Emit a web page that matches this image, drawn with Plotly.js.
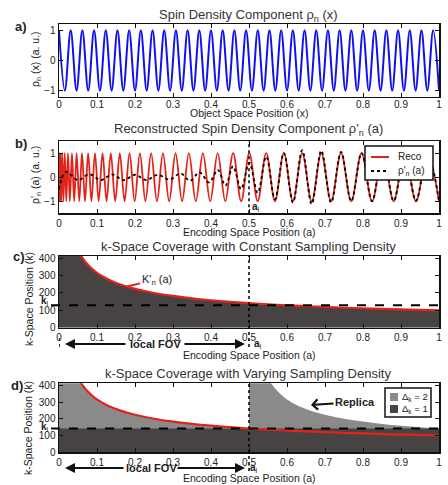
<!DOCTYPE html>
<html><head><meta charset="utf-8">
<script src="https://cdn.plot.ly/plotly-3.0.1.min.js"></script>
<style>html,body{margin:0;padding:0;background:#fff}#plot{width:448px;height:485px}</style>
</head><body><div id="plot"></div>
<script>
// ---------- data ----------
// panel a: extrema of the spin density component rho_n(x)
const spinX = [0,0.0154,0.0308,0.0462,0.0615,0.0769,0.0923,0.1077,0.1231,0.1385,0.1538,0.1692,0.1846,0.2,0.2154,0.2308,0.2462,0.2615,0.2769,0.2923,0.3077,0.3231,0.3385,0.3538,0.3692,0.3846,0.4,0.4154,0.4308,0.4462,0.4615,0.4769,0.4923,0.5077,0.5231,0.5385,0.5538,0.5692,0.5846,0.6,0.6154,0.6308,0.6462,0.6615,0.6769,0.6923,0.7077,0.7231,0.7385,0.7538,0.7692,0.7846,0.8,0.8154,0.8308,0.8462,0.8615,0.8769,0.8923,0.9077,0.9231,0.9385,0.9538,0.9692,0.9846,1];
const spinY = [1,-1,1,-1,1,-1,1,-1,1,-1,1,-1,1,-1,1,-1,1,-1,1,-1,1,-1,1,-1,1,-1,1,-1,1,-1,1,-1,1,-1,1,-1,1,-1,1,-1,1,-1,1,-1,1,-1,1,-1,1,-1,1,-1,1,-1,1,-1,1,-1,1,-1,1,-1,1,-1,1,-1];
// panel b: extrema of the reconstruction "Reco"
const recoA = [0,0.0002,0.001,0.0021,0.0038,0.0059,0.0085,0.0116,0.0152,0.0192,0.0237,0.0286,0.0341,0.04,0.0464,0.0533,0.0606,0.0684,0.0767,0.0854,0.0947,0.1044,0.1146,0.1252,0.1363,0.1479,0.16,0.1725,0.1856,0.1991,0.213,0.2275,0.2424,0.2578,0.2736,0.2899,0.3067,0.324,0.3418,0.36,0.3787,0.3979,0.4175,0.4376,0.4582,0.4793,0.5008,0.5228,0.5453,0.5683,0.5917,0.6156,0.64,0.6649,0.6902,0.716,0.7423,0.769,0.7962,0.8239,0.8521,0.8807,0.9098,0.9394,0.9695,1];
const recoV = [1,-1,1,-1,1,-1,1,-1,1,-1,1,-1,1,-1,1,-1,1,-1,1,-1,1,-1,1,-1,1,-1,1,-1,1,-1,1,-1,1,-1,1,-1,1,-1,1,-1,1,-1,1,-1,1,-1,1,-1,1,-1,1,-1,1,-1,1,-1,1,-1,1,-1,1,-1,1,-1,1,-1];
// panel b: extrema of rho'_n(a)
const rhoA = [0,0.018,0.05,0.08,0.11,0.14,0.17,0.2,0.23,0.26,0.29,0.32,0.345,0.37,0.395,0.418,0.438,0.458,0.479,0.5008,0.5228,0.5453,0.5683,0.5917,0.6156,0.64,0.6649,0.6902,0.716,0.7423,0.769,0.7962,0.8239,0.8521,0.8807,0.9098,0.9394,0.9695,1];
const rhoV = [-0.5,0.22,-0.12,0.12,-0.12,0.11,-0.12,0.1,-0.12,0.1,-0.1,0.15,-0.15,0.2,-0.22,0.3,-0.35,0.45,-0.5,0.6,-0.65,0.85,-0.92,1.0,-1.05,1.12,-1.12,1.1,-1.05,1.05,-1.0,1.0,-1.0,0.98,-0.98,0.98,-0.98,1.0,-0.98];
// panels c, d: local k-space position K'_n(a)
const kA   = [0,0.005,0.01,0.02,0.03,0.04,0.05,0.06,0.07,0.08,0.09,0.1,0.12,0.14,0.16,0.18,0.2,0.25,0.3,0.35,0.4,0.45,0.5,0.55,0.6,0.65,0.7,0.75,0.8,0.85,0.9,0.95,1];
const kVal = [5000,1414,1000,707,577,500,447,408,378,354,333,316,289,267,250,236,224,200,183,169,158,149,141,135,129,124,120,115,112,108,105,103,100];
// panel d: replica
const repA   = [0.5,0.505,0.51,0.52,0.53,0.54,0.55,0.56,0.57,0.58,0.59,0.6,0.62,0.64,0.66,0.68,0.7,0.75,0.8,0.85,0.9,0.95,1];
const repVal = [5000,1414,1000,707,577,500,447,408,378,354,333,316,289,267,250,236,224,200,183,169,158,149,141];
const kLimitC = 130, kLimitD = 141, aLimit = 0.5;
const xTicks = [0,0.1,0.2,0.3,0.4,0.5,0.6,0.7,0.8,0.9,1];
const xTickText = ['0','0.1','0.2','0.3','0.4','0.5','0.6','0.7','0.8','0.9','1'];
const kTicks = [0,100,200,300,400];
const legendB = ['Reco', "ρ'<sub>n</sub> (a)"];
const legendD = ['Δ<sub>k</sub> = 2', 'Δ<sub>k</sub> = 1'];

// ---------- layout helpers ----------
const W = 448, H = 485;
const px = x => x / W, py = y => 1 - y / H;
const FONT = 'Liberation Sans, Arial, Helvetica, sans-serif';
const TXT = '#222';
const RED = '#e2231a', BLUE = '#1010f0', DARK = '#474343', LIGHT = '#8a8a8a';
const xDom = [px(59), px(439)];
const TICKF = {size: 10, color: TXT, family: FONT};

function xAx(anchor, lblOff) {
  return {domain: xDom, anchor: anchor, range: [0, 1], tickvals: xTicks, ticktext: xTickText,
    showline: true, mirror: 'ticks', linecolor: '#111', linewidth: 1.5, ticks: 'inside', ticklen: 4,
    tickcolor: '#111', showgrid: false, zeroline: false, automargin: false, tickfont: TICKF,
    ticklabelstandoff: lblOff || 0};
}
function yAx(anchor, dom, range, ticks) {
  return {domain: dom, anchor: anchor, range: range, tickvals: ticks,
    showline: true, mirror: 'ticks', linecolor: '#111', linewidth: 1.5, ticks: 'inside', ticklen: 4,
    tickcolor: '#111', showgrid: false, zeroline: false, automargin: false, tickfont: TICKF};
}

const kLeftA = kA.filter(a => a <= aLimit);
const kLeftV = kVal.slice(0, kLeftA.length);

const traces = [
  {x: spinX, y: spinY, xaxis: 'x', yaxis: 'y', mode: 'lines', line: {color: BLUE, width: 2, shape: 'spline'}},
  {x: recoA, y: recoV, xaxis: 'x2', yaxis: 'y2', mode: 'lines', name: legendB[0], line: {color: RED, width: 1.8, shape: 'spline'}},
  {x: rhoA, y: rhoV, xaxis: 'x2', yaxis: 'y2', mode: 'lines', name: legendB[1], line: {color: '#000', width: 1.8, dash: 'dot', shape: 'spline'}},
  // panel c
  {x: kA, y: kVal, xaxis: 'x3', yaxis: 'y3', mode: 'lines', fill: 'tozeroy', fillcolor: DARK, line: {width: 0, shape: 'spline'}},
  {x: kA, y: kVal, xaxis: 'x3', yaxis: 'y3', mode: 'lines', line: {color: RED, width: 2.2, shape: 'spline'}},
  // panel d
  {x: kLeftA, y: kLeftV, xaxis: 'x4', yaxis: 'y4', mode: 'lines', name: legendD[0], fill: 'tozeroy', fillcolor: LIGHT, line: {width: 0, shape: 'spline'}},
  {x: repA, y: repVal, xaxis: 'x4', yaxis: 'y4', mode: 'lines', fill: 'tozeroy', fillcolor: LIGHT, line: {width: 0, shape: 'spline'}},
  {x: [0, 1], y: [kLimitD, kLimitD], xaxis: 'x4', yaxis: 'y4', mode: 'lines', name: legendD[1], fill: 'tozeroy', fillcolor: DARK, line: {width: 0}},
  {x: kA, y: kVal, xaxis: 'x4', yaxis: 'y4', mode: 'lines', line: {color: RED, width: 2.2, shape: 'spline'}}
];

function txt(text, x, y, size, extra) {
  return Object.assign({text: text, x: px(x), y: py(y), xref: 'paper', yref: 'paper', showarrow: false,
    xanchor: 'center', yanchor: 'middle', font: {size: size, color: TXT, family: FONT}}, extra || {});
}
function arrow(hx, hy, ax, ay, color, head, width) {
  return {text: '', x: px(hx), y: py(hy), xref: 'paper', yref: 'paper', showarrow: true,
    ax: ax, ay: ay, arrowcolor: color, arrowhead: head, arrowsize: 1, arrowwidth: width, standoff: 0, startstandoff: 0};
}
const TF = {size: 13, color: '#333', family: FONT};
const AXTF = {size: 10.5, color: TXT, family: FONT};
const LFB = {size: 10, color: TXT, family: FONT};
const LFD = {size: 9.5, color: TXT, family: FONT};
const vert = {textangle: -90, font: AXTF};

const annotations = [
  // subplot titles
  txt('Spin Density Component ρ<sub>n</sub> (x)', 248, 15, 13, {font: TF}),
  txt("Reconstructed Spin Density Component ρ'<sub>n</sub> (a)", 248, 130, 13, {font: TF}),
  txt('k-Space Coverage with Constant Sampling Density', 248, 247, 13, {font: TF}),
  txt('k-Space Coverage with Varying Sampling Density', 248, 373, 13, {font: TF}),
  // axis titles
  txt('Object Space Position (x)', 249, 113, 10.5, {font: AXTF}),
  txt('Encoding Space Position (a)', 249, 232, 10.5, {font: AXTF}),
  txt('Encoding Space Position (a)', 249, 355, 10.5, {font: AXTF}),
  txt('Encoding Space Position (a)', 249, 478, 10.5, {font: AXTF}),
  txt('ρ<sub>n</sub> (x) (a. u.)', 36, 59, 10.5, vert),
  txt("ρ'<sub>n</sub> (a) (a. u.)", 36, 175, 10.5, vert),
  txt('k-Space Position (k)', 29, 299, 10.5, vert),
  txt('k-Space Position (k)', 28, 428, 10.5, vert),
  // panel letters
  txt('<b>a)</b>', 21, 26, 13), txt('<b>b)</b>', 21, 143, 13), txt('<b>c)</b>', 19, 256, 13), txt('<b>d)</b>', 17, 385, 13),
  txt('<b>k</b><sub>l</sub>', 45, 301, 10), txt('<b>k</b><sub>l</sub>', 45, 427, 10),
  txt('<b>a</b><sub>l</sub>', 256, 207, 10), txt('<b>a</b><sub>l</sub>', 258, 344, 10), txt('<b>a</b><sub>l</sub>', 254, 468, 10),
  // local FOV arrows
  txt('<b>local FOV</b>', 155, 344, 11), arrow(65, 344, 62, 0, '#111', 2, 2), arrow(245, 344, -62, 0, '#111', 2, 2),
  txt('<b>local FOV</b>', 151, 468, 11), arrow(65, 468, 60, 0, '#111', 2, 2), arrow(245, 468, -69, 0, '#111', 2, 2),
  // K'n(a) label
  {text: "K'<sub>n</sub> (a)", x: 0.178, y: 237, xref: 'x3', yref: 'y3', showarrow: true, ax: 30, ay: -7,
    arrowcolor: RED, arrowhead: 0, arrowwidth: 2, standoff: 0, font: {size: 11, color: TXT, family: FONT}},
  // Replica
  {text: '<b>Replica</b>', x: px(311), y: py(405), xref: 'paper', yref: 'paper', showarrow: true, ax: 44, ay: -3,
    arrowcolor: '#111', arrowhead: 4, arrowsize: 1, arrowwidth: 2, standoff: 0, font: {size: 11, color: TXT, family: FONT}},
  // legend texts
  txt(legendB[0], 396, 157, 10, {xanchor: 'left', font: LFB}),
  txt(legendB[1], 396, 171, 10, {xanchor: 'left', font: LFB}),
  txt(legendD[0], 400, 397, 9.5, {xanchor: 'left', font: LFD}),
  txt(legendD[1], 400, 409, 9.5, {xanchor: 'left', font: LFD})
];

function pline(x0, y0, x1, y1, color, width, dash) {
  return {type: 'line', xref: 'paper', yref: 'paper', x0: px(x0), x1: px(x1), y0: py(y0), y1: py(y1),
    line: {color: color, width: width, dash: dash || 'solid'}};
}
function prect(x0, y0, x1, y1, fill, lineColor, lw) {
  return {type: 'rect', xref: 'paper', yref: 'paper', x0: px(x0), x1: px(x1), y0: py(y1), y1: py(y0),
    fillcolor: fill, line: {color: lineColor, width: lw}};
}

const shapes = [
  {type: 'line', xref: 'x2', yref: 'y2', x0: aLimit, x1: aLimit, y0: -1.5, y1: 1.5, line: {color: '#000', width: 1.5, dash: 'dot'}},
  {type: 'line', xref: 'x3', yref: 'paper', x0: aLimit, x1: aLimit, y0: py(347), y1: py(256), line: {color: '#000', width: 1.5, dash: 'dot'}},
  {type: 'line', xref: 'x3', yref: 'paper', x0: 0, x1: 0, y0: py(347), y1: py(337), line: {color: '#000', width: 1.5, dash: 'dot'}},
  {type: 'line', xref: 'x4', yref: 'paper', x0: aLimit, x1: aLimit, y0: py(471), y1: py(383), line: {color: '#000', width: 1.5, dash: 'dot'}},
  {type: 'line', xref: 'paper', yref: 'y3', x0: px(51), x1: px(439), y0: kLimitC, y1: kLimitC, line: {color: '#000', width: 2, dash: 'dash'}},
  {type: 'line', xref: 'paper', yref: 'y4', x0: px(51), x1: px(439), y0: kLimitD, y1: kLimitD, line: {color: '#000', width: 2, dash: 'dash'}},
  // legend of panel b
  prect(365, 146, 433, 180, '#fff', '#111', 1.5),
  pline(371, 157, 389, 157, RED, 2),
  pline(371, 171, 389, 171, '#000', 2, 'dot'),
  // legend of panel d
  prect(385, 388, 431, 417, '#fff', '#111', 1.5),
  prect(390, 393, 398, 401, LIGHT, LIGHT, 0),
  prect(390, 405, 398, 413, DARK, DARK, 0)
];

const layout = {
  width: W, height: H, margin: {l: 0, r: 0, t: 0, b: 0, pad: 0, autoexpand: false}, paper_bgcolor: '#fff', plot_bgcolor: '#fff',
  showlegend: false,
  font: {family: FONT, color: TXT, size: 11},
  xaxis: xAx('y', -2),
  yaxis: yAx('x', [py(96.7), py(24.3)], [-1.2, 1.2], [-1, 0, 1]),
  xaxis2: xAx('y2'),
  yaxis2: yAx('x2', [py(213.3), py(141)], [-1.5, 1.5], [-1, 0, 1]),
  xaxis3: xAx('y3'),
  yaxis3: yAx('x3', [py(327.7), py(256)], [0, 413], kTicks),
  xaxis4: xAx('y4'),
  yaxis4: yAx('x4', [py(452), py(383.3)], [0, 413], kTicks),
  annotations: annotations, shapes: shapes
};

Plotly.newPlot('plot', traces, layout, {staticPlot: true, displayModeBar: false});
</script></body></html>
